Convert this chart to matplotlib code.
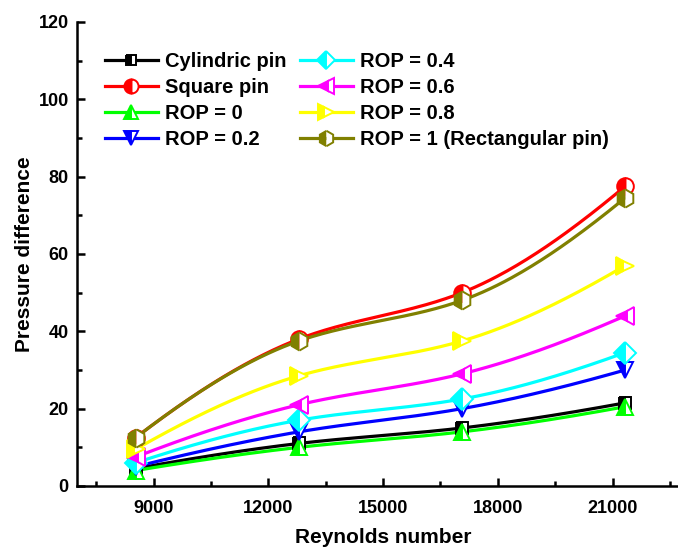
import numpy as np
import matplotlib
matplotlib.use("Agg")
import matplotlib.pyplot as plt
from matplotlib.lines import Line2D
from matplotlib.ticker import MultipleLocator

plt.rcParams['font.family'] = ['Liberation Sans', 'DejaVu Sans']
plt.rcParams['font.weight'] = 'bold'

# -----------------------------
# DATA
# -----------------------------
reynolds = [8532, 12798, 17064, 21330]

labels = ["Cylindric pin", "Square pin", "ROP = 0", "ROP = 0.2",
          "ROP = 0.4", "ROP = 0.6", "ROP = 0.8", "ROP = 1 (Rectangular pin)"]

cylindric = [4.5, 11.0, 15.0, 21.5]
square = [12.5, 38.0, 50.0, 77.5]
rop_0 = [4.0, 10.0, 14.0, 20.5]
rop_02 = [5.0, 14.0, 20.0, 30.0]
rop_04 = [6.0, 17.0, 22.5, 34.5]
rop_06 = [7.5, 21.0, 29.0, 44.0]
rop_08 = [9.5, 28.5, 37.5, 57.0]
rop_1 = [12.5, 37.5, 48.0, 74.5]

series = [cylindric, square, rop_0, rop_02, rop_04, rop_06, rop_08, rop_1]
colors = ["black", "red", "#00ff00", "blue", "cyan", "magenta", "yellow", "#808000"]
markers = ["s", "o", "^", "v", "D", "<", ">", "h"]
msizes = [9, 12, 12, 12, 11, 13, 13, 13]


def pchip(x, y, xs):
    # monotone cubic hermite connector, like a spline line in the original
    x = np.asarray(x, float)
    y = np.asarray(y, float)
    h = np.diff(x)
    d = np.diff(y) / h
    m = np.zeros_like(y)
    for k in range(1, len(x) - 1):
        if d[k - 1] * d[k] > 0:
            w1 = 2 * h[k] + h[k - 1]
            w2 = h[k] + 2 * h[k - 1]
            m[k] = (w1 + w2) / (w1 / d[k - 1] + w2 / d[k])
    m[0] = ((2 * h[0] + h[1]) * d[0] - h[0] * d[1]) / (h[0] + h[1])
    m[-1] = ((2 * h[-1] + h[-2]) * d[-1] - h[-1] * d[-2]) / (h[-1] + h[-2])
    idx = np.clip(np.searchsorted(x, xs) - 1, 0, len(x) - 2)
    t = (xs - x[idx]) / h[idx]
    h00 = 2 * t**3 - 3 * t**2 + 1
    h10 = t**3 - 2 * t**2 + t
    h01 = -2 * t**3 + 3 * t**2
    h11 = t**3 - t**2
    return (h00 * y[idx] + h10 * h[idx] * m[idx]
            + h01 * y[idx + 1] + h11 * h[idx] * m[idx + 1])


# -----------------------------
# PLOT
# -----------------------------
fig = plt.figure(figsize=(6.78, 5.48), dpi=100)
ax = fig.add_axes([77 / 678, 62 / 548, 612 / 678, 464 / 548])

xs = np.linspace(reynolds[0], reynolds[-1], 200)

handles = []
for vals, c, m, ms, lab in zip(series, colors, markers, msizes, labels):
    ax.plot(xs, pchip(reynolds, vals, xs), color=c, lw=2.3, zorder=2)
    ax.plot(reynolds, vals, ls="none", marker=m, ms=ms, mfc=c, mec=c,
            fillstyle="left", markerfacecoloralt="white", mew=1.4, zorder=3)
    handles.append(Line2D([0], [0], color=c, lw=2.3, marker=m, ms=ms * 0.85,
                          mfc=c, mec=c, fillstyle="left",
                          markerfacecoloralt="white", mew=1.4, label=lab))

ax.set_xlim(7000, 23000)
ax.set_ylim(0, 120)
ax.xaxis.set_minor_locator(MultipleLocator(1500))
ax.yaxis.set_major_locator(MultipleLocator(20))
ax.yaxis.set_minor_locator(MultipleLocator(10))
ax.set_xticks([9000, 12000, 15000, 18000, 21000])

for s in ["top", "right"]:
    ax.spines[s].set_visible(False)
for s in ["left", "bottom"]:
    ax.spines[s].set_linewidth(1.8)

ax.tick_params(which="major", direction="in", length=6, width=1.8,
               labelsize=13, pad=6)
ax.tick_params(axis="x", which="major", pad=10)
ax.tick_params(which="minor", direction="in", length=3.5, width=1.8)
for t in ax.get_xticklabels() + ax.get_yticklabels():
    t.set_fontweight("bold")

ax.set_xlabel("Reynolds number", fontsize=15, fontweight="bold", labelpad=8)
ax.set_ylabel("Pressure difference", fontsize=15, fontweight="bold", labelpad=3)

leg = ax.legend(handles=handles, ncol=2, loc="upper left",
                bbox_to_anchor=(0.046, 0.935), frameon=False,
                prop={"size": 14.5, "weight": "bold"}, handlelength=2.6,
                handletextpad=0.35, columnspacing=0.7, labelspacing=0.35,
                borderaxespad=0, borderpad=0)

fig.savefig("out.png", dpi=100)
